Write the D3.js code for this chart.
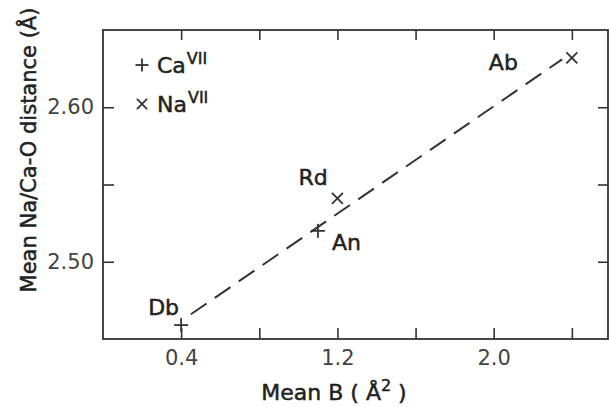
<!DOCTYPE html>
<html><head><meta charset="utf-8">
<script src="https://cdn.jsdelivr.net/npm/d3@7"></script>
<style>
html,body{margin:0;padding:0;background:#fff;}
svg text{font-family:"DejaVu Sans",sans-serif;}
</style></head>
<body><svg id="c" width="609" height="407"></svg>
<script>
// ---- data ----
const names = ["Db", "An", "Rd", "Ab"];
const meanB = [0.40, 1.10, 1.20, 2.40];
const meanDist = [2.459, 2.520, 2.541, 2.632];
const cation = ["Ca", "Ca", "Na", "Na"];
const fitB = [0.45, 2.35];
const fitDist = [2.466, 2.631];
const xTicks = [0.4, 0.8, 1.2, 1.6, 2.0, 2.4];
const xTickLabels = ["0.4", "", "1.2", "", "2.0", ""];
const yTicks = [2.50, 2.55, 2.60];
const yTickLabels = ["2.50", "", "2.60"];
const legendItems = ["Ca", "Na"];
const xTitle = "Mean B";
const yTitle = "Mean Na/Ca-O distance";

// ---- layout ----
const L = 103, R = 608, T = 30, B = 339;
const ink = "#333";
const svg = d3.select("#c");
const x = d3.scaleLinear().domain([0, 2.585]).range([L, R]);
const y = d3.scaleLinear().domain([2.45, 2.65]).range([B, T]);

function styleAxis(g) {
  g.select(".domain").remove();
  g.selectAll("line").attr("stroke", ink).attr("stroke-width", 1.6);
  g.selectAll("text").attr("fill", "#444").style("font-size", "21px").attr("font-family", "DejaVu Sans");
}
svg.append("g").attr("transform", `translate(0,${B})`)
  .call(d3.axisBottom(x).tickValues(xTicks).tickSize(-11).tickPadding(11).tickFormat((d, i) => xTickLabels[i]))
  .call(styleAxis);
svg.append("g").attr("transform", `translate(0,${T})`)
  .call(d3.axisTop(x).tickValues(xTicks).tickSize(-10).tickFormat(""))
  .call(styleAxis);
svg.append("g").attr("transform", `translate(${L},0)`)
  .call(d3.axisLeft(y).tickValues(yTicks).tickSize(-11).tickPadding(9).tickFormat((d, i) => yTickLabels[i]))
  .call(styleAxis);
svg.append("g").attr("transform", `translate(${R},0)`)
  .call(d3.axisRight(y).tickValues(yTicks).tickSize(-10).tickFormat(""))
  .call(styleAxis);

// frame
svg.append("rect").attr("x", L).attr("y", T).attr("width", R - L).attr("height", B - T)
  .attr("fill", "none").attr("stroke", ink).attr("stroke-width", 1.8);

// fit line
svg.append("line")
  .attr("x1", x(fitB[0])).attr("y1", y(fitDist[0]))
  .attr("x2", x(fitB[1])).attr("y2", y(fitDist[1]))
  .attr("stroke", ink).attr("stroke-width", 2).attr("stroke-dasharray", "19,10");

// markers
function marker(g, kind, s) {
  if (kind === "Ca") {
    g.append("line").attr("x1", -s).attr("x2", s).attr("y1", 0).attr("y2", 0);
    g.append("line").attr("x1", 0).attr("x2", 0).attr("y1", -s).attr("y2", s);
  } else {
    const k = s * 0.78;
    g.append("line").attr("x1", -k).attr("x2", k).attr("y1", -k).attr("y2", k);
    g.append("line").attr("x1", -k).attr("x2", k).attr("y1", k).attr("y2", -k);
  }
  g.selectAll("line").attr("stroke", ink).attr("stroke-width", 1.8);
}
function boldish(t) { return t.attr("fill", "#222").attr("stroke", "#222").attr("stroke-width", 0.5); }
const labelOff = {Db: [-33, -10], An: [14, 19], Rd: [-39, -13], Ab: [-83, 12]};
names.forEach((n, i) => {
  const g = svg.append("g").attr("transform", `translate(${x(meanB[i])},${y(meanDist[i])})`);
  marker(g, cation[i], 7);
  boldish(svg.append("text").attr("x", x(meanB[i]) + labelOff[n][0]).attr("y", y(meanDist[i]) + labelOff[n][1])
    .style("font-size", "22px").text(n));
});

// legend
legendItems.forEach((c, i) => {
  const cy = 65 + i * 39;
  const g = svg.append("g").attr("transform", `translate(142,${cy})`);
  marker(g, c, 6.5);
  const t = boldish(svg.append("text").attr("x", 157).attr("y", cy + 8).style("font-size", "22px"));
  t.append("tspan").text(c);
  t.append("tspan").attr("dx", 1).attr("dy", -9).style("font-size", "16px").text("VII");
});

// axis titles
const xt = boldish(svg.append("text").attr("x", 334).attr("y", 400).attr("text-anchor", "middle")
  .style("font-size", "22px"));
xt.append("tspan").text(xTitle + " ( Å");
xt.append("tspan").attr("dy", -9).style("font-size", "16px").text("2");
xt.append("tspan").attr("dy", 9).text(" )");

boldish(svg.append("text").attr("transform", "translate(36,150) rotate(-90)").attr("text-anchor", "middle")
  .style("font-size", "21px").text(yTitle + " (Å)"));
</script></body></html>
